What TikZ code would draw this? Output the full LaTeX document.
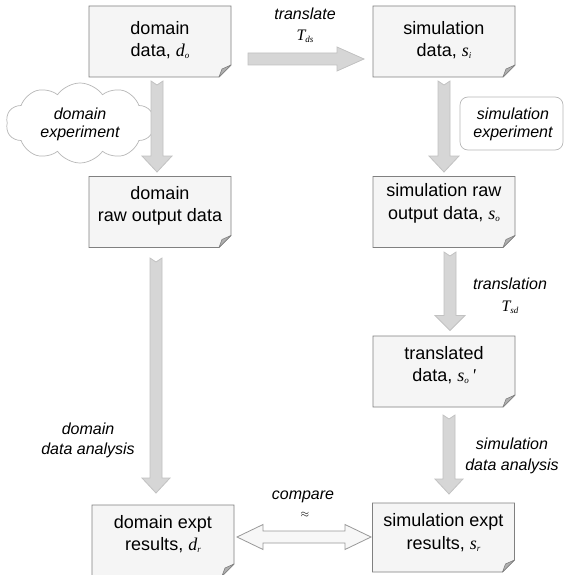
\documentclass[tikz,border=0pt]{standalone}
\usepackage{fontspec}
\setmainfont{Liberation Sans}
\newfontfamily\tms{Liberation Serif}
\usetikzlibrary{calc,shapes.symbols}
\definecolor{boxfill}{HTML}{F5F5F5}
\definecolor{boxline}{HTML}{808080}
\definecolor{arrfill}{HTML}{D6D6D6}
\definecolor{arrline}{HTML}{C2C2C2}
\definecolor{foldfill}{HTML}{B0B0B0}
\definecolor{softline}{HTML}{B8B8B8}
\newcommand\mv[2]{{\tms\itshape #1\raisebox{-2pt}{\fontsize{9}{9}\selectfont #2}}}
\newcommand\myvarrow[4]{%
  \filldraw[blockarrow] ($(#1)+(-6,0)$) -- ($(#2)+(-6,-#3)$) -- ($(#2)+(-#4,-#3)$) -- (#2)
    -- ($(#2)+(#4,-#3)$) -- ($(#2)+(6,-#3)$) -- ($(#1)+(6,0)$) -- ($(#1)+(0,4)$) -- cycle;}
\newcommand\myharrow[4]{%
  \filldraw[blockarrow] ($(#1)+(0,-6)$) -- ($(#2)+(-#3,-6)$) -- ($(#2)+(-#3,-#4)$) -- (#2)
    -- ($(#2)+(-#3,#4)$) -- ($(#2)+(-#3,6)$) -- ($(#1)+(0,6)$) -- cycle;}
\begin{document}
\begin{tikzpicture}[x=1pt,y=-1pt,
  boxnode/.style={minimum width=142pt,minimum height=71pt,inner sep=0pt,outer sep=0pt},
  boxtext/.style={align=center,inner sep=0pt,font=\fontsize{18}{22.5}\selectfont},
  lbl/.style={align=center,inner sep=0pt,font=\fontsize{16}{20}\selectfont\itshape},
  boxshape/.style={fill=boxfill,draw=boxline,line width=0.8pt,line join=miter},
  foldshape/.style={fill=foldfill,draw=boxline,line width=0.6pt,line join=round},
  blockarrow/.style={fill=arrfill,draw=arrline,line width=0.8pt},
  cmparrow/.style={fill=white!97!black,draw=boxline!80,line width=0.8pt}]
\useasboundingbox (0,0) rectangle (573,575);
\fill[white] (0,0) rectangle (573,575);

% boxes (geometry)
\node[boxnode] (dd) at (160,41.5) {};
\node[boxnode] (sd) at (444,41.5) {};
\node[boxnode] (dr) at (160,212) {};
\node[boxnode] (sr) at (444,212) {};
\node[boxnode] (tr) at (444,371.5) {};
\node[boxnode] (de) at (163,540.5) {};
\node[boxnode,minimum height=69pt] (se) at (443.5,537.5) {};

\foreach \n in {dd,sd,dr,sr,tr,de,se}{
  \filldraw[boxshape] (\n.north west) -- (\n.north east) -- ($(\n.south east)+(0,-12)$)
     -- ($(\n.south east)+(-12,0)$) -- (\n.south west) -- cycle;
  \filldraw[foldshape] ($(\n.south east)+(0,-12)$) -- ($(\n.south east)+(-12,0)$)
     -- ($(\n.south east)+(-9,-8)$) -- cycle;
}

% box texts
\node[boxtext] (ddt) at (160,40) {domain\\data, \mv{d}{o}};
\node[boxtext] (sdt) at (444,40) {simulation\\data, \mv{s}{i}};
\node[boxtext] (drt) at (160,206) {domain\\raw output data};
\node[boxtext] (srt) at (444,203.5) {simulation raw\\output data, \mv{s}{o}};
\node[boxtext] (trt) at (444,365) {translated\\data, {\tms\itshape s\raisebox{-2pt}{\fontsize{9}{9}\selectfont o}\,'}};
\node[boxtext] (det) at (163,534) {domain expt\\results, \mv{d}{r}};
\node[boxtext] (set) at (443.5,532.5) {simulation expt\\results, \mv{s}{r}};

% cloud and rounded box
\node[cloud,cloud puffs=10,cloud puff arc=110,aspect=2.2,draw=softline,fill=white,line width=0.7pt,
      minimum width=148pt,minimum height=80pt,inner sep=0pt] (cl) at (80,123) {};
\node[draw=softline,fill=white,rounded corners=8pt,line width=0.7pt,
      minimum width=103pt,minimum height=53pt,inner sep=0pt] (se-box) at (511.5,123.5) {};

% arrow end points
\coordinate (a1s) at ($(dd.south)+(-3,4)$);
\coordinate (a1e) at ($(dr.north)+(-3,-4.5)$);
\coordinate (a2s) at ($(sd.south)+(0,4)$);
\coordinate (a2e) at ($(sr.north)+(0,-4.5)$);
\coordinate (a3s) at ($(sr.south)+(6,4.5)$);
\coordinate (a3e) at ($(tr.north)+(6,-5.5)$);
\coordinate (a4s) at ($(tr.south)+(5,8)$);
\coordinate (a4e) at ($(se.north)+(5.5,-9)$);
\coordinate (a5s) at ($(dr.south)+(-4,10.5)$);
\coordinate (a5e) at ($(de.north)+(-7,-12)$);
\coordinate (hs) at ($(dd.east)+(17,17.5)$);
\coordinate (he) at ($(sd.west)+(-9,17.5)$);
\coordinate (cL) at ($(de.east)+(3,-3.5)$);
\coordinate (cR) at ($(se.west)+(-1.5,-0.5)$);

\myvarrow{a1s}{a1e}{16}{15}
\myvarrow{a2s}{a2e}{16}{15}
\myvarrow{a3s}{a3e}{15}{15}
\myvarrow{a4s}{a4e}{15}{14}
\myvarrow{a5s}{a5e}{15}{14}
\myharrow{hs}{he}{27}{12}
\filldraw[cmparrow] (cL) -- ($(cL)+(26,-12.5)$) -- ($(cL)+(26,-6)$) -- ($(cR)+(-26,-6)$)
   -- ($(cR)+(-26,-12.5)$) -- (cR) -- ($(cR)+(-26,12.5)$) -- ($(cR)+(-26,6)$)
   -- ($(cL)+(26,6)$) -- ($(cL)+(26,12.5)$) -- cycle;

% labels
\node[lbl,font=\fontsize{16}{18}\selectfont\itshape] (cltxt) at (80,124) {domain\\experiment};
\node[lbl,font=\fontsize{16}{18}\selectfont\itshape] (setxt) at (513,124) {simulation\\experiment};
\node[lbl,font=\fontsize{16}{21}\selectfont\itshape] (tl1) at (305,25.5) {translate\\{\upshape\mv{T}{ds}}};
\node[lbl,font=\fontsize{16}{22}\selectfont\itshape] (tl2) at (510,296) {translation\\{\upshape\mv{T}{sd}}};
\node[lbl] (dda) at (88,440) {domain\\data analysis};
\node[lbl,font=\fontsize{16}{21}\selectfont\itshape] (sda) at (512,455.5) {simulation\\data analysis};
\node[lbl] (cmp) at (303,497) {compare};
\node[inner sep=0pt,font=\fontsize{11}{11}\selectfont] (apx) at (305,515) {$\approx$};
\end{tikzpicture}
\end{document}
